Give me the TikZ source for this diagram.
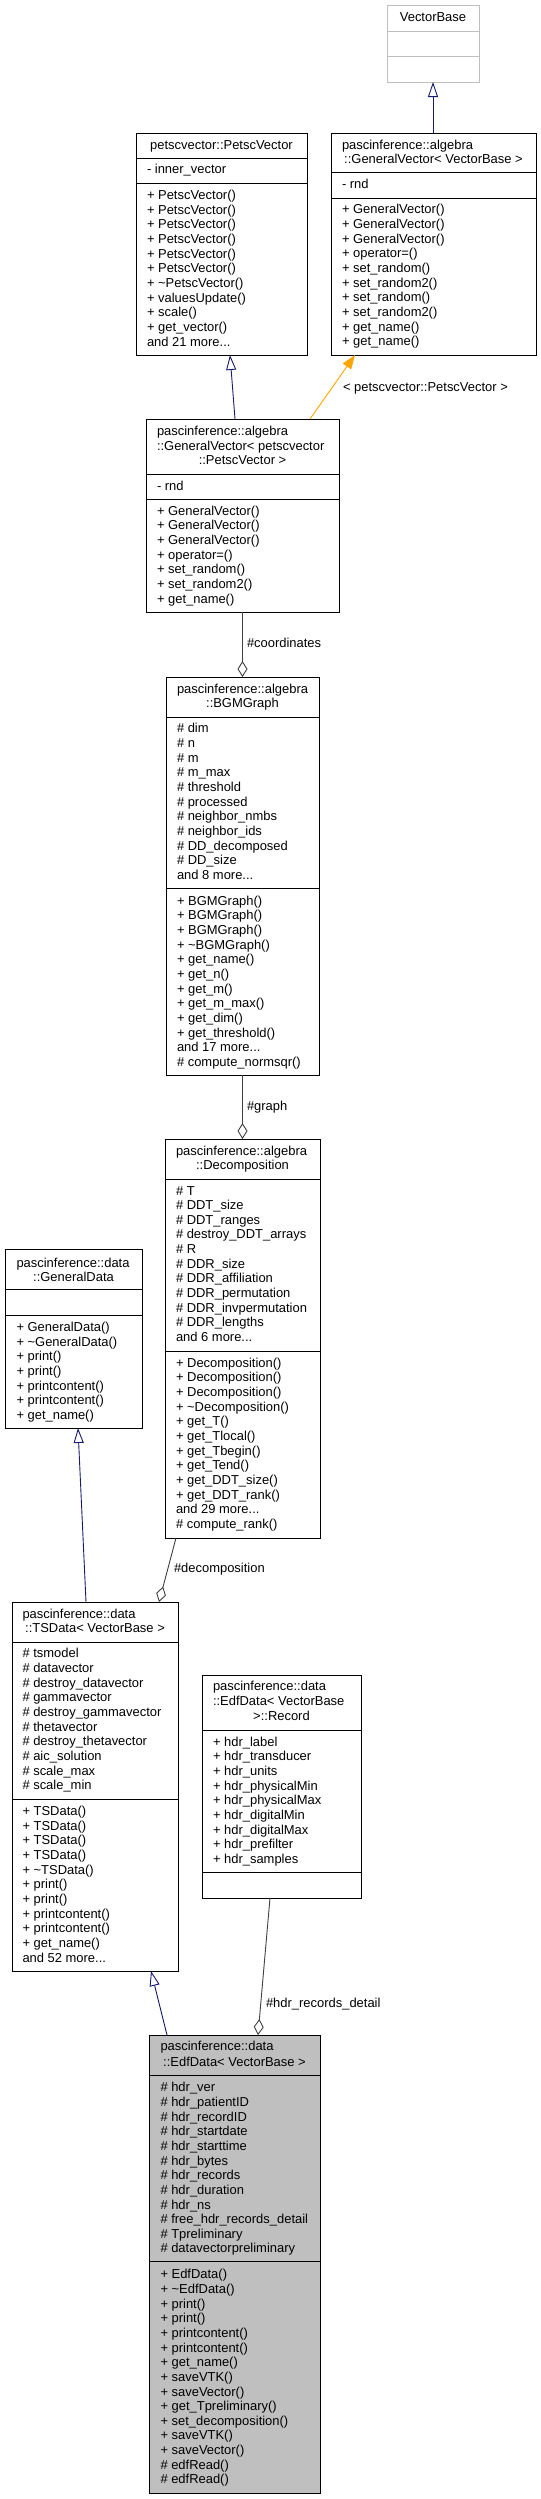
\documentclass[tikz,border=0pt]{standalone}
\usepackage{fontspec}
\setmainfont{Liberation Sans}
\usetikzlibrary{arrows.meta}
\definecolor{mblue}{HTML}{191970}
\definecolor{aggc}{HTML}{404040}
\definecolor{tplc}{HTML}{FFA500}
\definecolor{vbgray}{HTML}{BFBFBF}
\definecolor{edfgray}{HTML}{BFBFBF}
\newcommand\tdots{...}
\tikzset{
  box/.style={draw=black,line width=1bp,inner sep=0pt,outer sep=0pt},
  txt/.style={anchor=base west,inner sep=0pt,outer sep=0pt,font=\fontsize{13}{14.7}\selectfont},
  txtc/.style={anchor=base,inner sep=0pt,outer sep=0pt,font=\fontsize{13}{14.7}\selectfont},
  inh/.style={draw=mblue,line width=0.9bp,-{Triangle[open,length=15bp,width=10bp]}},
  agg/.style={draw=aggc,line width=0.9bp,-{Diamond[open,length=16bp,width=10bp]}},
  tpl/.style={draw=tplc,line width=0.9bp,-{Triangle[length=14bp,width=10bp]}},
  lbl/.style={anchor=base west,inner sep=0pt,outer sep=0pt,font=\fontsize{13}{14.7}\selectfont},
}
% [style]{name}{l}{t}{r}{b}{d1}{d2}
\newcommand\umlbox[8][]{%
  \node[box,#1,anchor=north west,minimum width={(#5-#3)*1bp},minimum height={(#6-#4)*1bp}] (#2) at (#3,#4) {};
  \draw[box,#1] (#3,#7) -- (#5,#7) (#3,#8) -- (#5,#8);
}
% {prefix}{x}{first center y}{list}
\newcommand\txtlines[4]{%
  \foreach [count=\i] \t in {#4} {\node[txt] (#1\i) at (#2,{#3+4.5+(\i-1)*14.65}) {\t};}
}
\begin{document}
\begin{tikzpicture}[x=1bp,y=-1bp]
\useasboundingbox[fill=white] (0,0) rectangle (541,2499);

% ---------- boxes ----------
\umlbox[draw=vbgray]{vb}{387}{6}{479}{82}{32}{57}
\umlbox{pv}{136}{133}{307}{355}{158}{183}
\umlbox{gvb}{331}{133}{536}{355}{172}{198}
\umlbox{gvp}{146}{419}{339}{612}{474}{499}
\umlbox{bgm}{166}{677}{319}{1075}{717}{888}
\umlbox{dec}{165}{1139}{320}{1538}{1179}{1351}
\umlbox{gd}{5}{1249}{142}{1428}{1289}{1315}
\umlbox{ts}{12}{1602}{178}{1971}{1642}{1799}
\umlbox{rec}{202}{1675}{361}{1898}{1730}{1872}
\umlbox[fill=edfgray]{edf}{149}{2035}{320}{2493}{2075}{2261}

% ---------- VectorBase ----------
\node[txtc] (vbt) at (433,21.5) {VectorBase};

% ---------- PetscVector ----------
\node[txtc] (pvt) at (221.5,149.5) {petscvector::PetscVector};
\txtlines{pva}{147}{169}{- inner\_vector}
\txtlines{pvm}{147}{195}{+ PetscVector(),+ PetscVector(),+ PetscVector(),+ PetscVector(),+ PetscVector(),+ PetscVector(),+ \textasciitilde PetscVector(),+ valuesUpdate(),+ scale(),+ get\_vector(),and 21 more\tdots}

% ---------- GeneralVector<VectorBase> ----------
\node[txt] (gvbt1) at (342,149.5) {pascinference::algebra};
\node[txtc] (gvbt2) at (433.5,163.5) {::GeneralVector< VectorBase >};
\txtlines{gvba}{342}{184}{- rnd}
\txtlines{gvbm}{342}{209.3}{+ GeneralVector(),+ GeneralVector(),+ GeneralVector(),+ operator=(),+ set\_random(),+ set\_random2(),+ set\_random(),+ set\_random2(),+ get\_name(),+ get\_name()}

% ---------- GeneralVector<PetscVector> ----------
\node[txt] (gvpt1) at (157,435.2) {pascinference::algebra};
\node[txt] (gvpt2) at (157,450.2) {::GeneralVector< petscvector};
\node[txtc] (gvpt3) at (242.5,464.5) {::PetscVector >};
\txtlines{gvpa}{157}{486}{- rnd}
\txtlines{gvpm}{157}{510.7}{+ GeneralVector(),+ GeneralVector(),+ GeneralVector(),+ operator=(),+ set\_random(),+ set\_random2(),+ get\_name()}

% ---------- BGMGraph ----------
\node[txt] (bgmt1) at (177,693.5) {pascinference::algebra};
\node[txtc] (bgmt2) at (242.5,707) {::BGMGraph};
\txtlines{bgma}{177}{728.3}{\# dim,\# n,\# m,\# m\_max,\# threshold,\# processed,\# neighbor\_nmbs,\# neighbor\_ids,\# DD\_decomposed,\# DD\_size,and 8 more\tdots}
\txtlines{bgmm}{177}{900.7}{+ BGMGraph(),+ BGMGraph(),+ BGMGraph(),+ \textasciitilde BGMGraph(),+ get\_name(),+ get\_n(),+ get\_m(),+ get\_m\_max(),+ get\_dim(),+ get\_threshold(),and 17 more\tdots,\# compute\_normsqr()}

% ---------- Decomposition ----------
\node[txt] (dect1) at (176,1155.5) {pascinference::algebra};
\node[txtc] (dect2) at (242.5,1169.8) {::Decomposition};
\txtlines{deca}{176}{1190.5}{\# T,\# DDT\_size,\# DDT\_ranges,\# destroy\_DDT\_arrays,\# R,\# DDR\_size,\# DDR\_affiliation,\# DDR\_permutation,\# DDR\_invpermutation,\# DDR\_lengths,and 6 more\tdots}
\txtlines{decm}{176}{1362.7}{+ Decomposition(),+ Decomposition(),+ Decomposition(),+ \textasciitilde Decomposition(),+ get\_T(),+ get\_Tlocal(),+ get\_Tbegin(),+ get\_Tend(),+ get\_DDT\_size(),+ get\_DDT\_rank(),and 29 more\tdots,\# compute\_rank()}

% ---------- GeneralData ----------
\node[txt] (gdt1) at (16.5,1267.5) {pascinference::data};
\node[txtc] (gdt2) at (73.5,1281.5) {::GeneralData};
\txtlines{gdm}{16.5}{1327}{+ GeneralData(),+ \textasciitilde GeneralData(),+ print(),+ print(),+ printcontent(),+ printcontent(),+ get\_name()}

% ---------- TSData ----------
\node[txt] (tst1) at (22.5,1618.5) {pascinference::data};
\node[txtc] (tst2) at (95,1632.5) {::TSData< VectorBase >};
\txtlines{tsa}{22.5}{1653.3}{\# tsmodel,\# datavector,\# destroy\_datavector,\# gammavector,\# destroy\_gammavector,\# thetavector,\# destroy\_thetavector,\# aic\_solution,\# scale\_max,\# scale\_min}
\txtlines{tsm}{22.5}{1811}{+ TSData(),+ TSData(),+ TSData(),+ TSData(),+ \textasciitilde TSData(),+ print(),+ print(),+ printcontent(),+ printcontent(),+ get\_name(),and 52 more\tdots}

% ---------- Record ----------
\node[txt] (rect1) at (213,1690.5) {pascinference::data};
\node[txt] (rect2) at (213,1705.2) {::EdfData< VectorBase};
\node[txtc] (rect3) at (281.5,1720.2) {>::Record};
\txtlines{reca}{213}{1741.7}{+ hdr\_label,+ hdr\_transducer,+ hdr\_units,+ hdr\_physicalMin,+ hdr\_physicalMax,+ hdr\_digitalMin,+ hdr\_digitalMax,+ hdr\_prefilter,+ hdr\_samples}

% ---------- EdfData ----------
\node[txt] (edft1) at (160.5,2050.5) {pascinference::data};
\node[txtc] (edft2) at (234.5,2066.2) {::EdfData< VectorBase >};
\txtlines{edfa}{160.5}{2087.3}{\# hdr\_ver,\# hdr\_patientID,\# hdr\_recordID,\# hdr\_startdate,\# hdr\_starttime,\# hdr\_bytes,\# hdr\_records,\# hdr\_duration,\# hdr\_ns,\# free\_hdr\_records\_detail,\# Tpreliminary,\# datavectorpreliminary}
\txtlines{edfm}{160.5}{2274.3}{+ EdfData(),+ \textasciitilde EdfData(),+ print(),+ print(),+ printcontent(),+ printcontent(),+ get\_name(),+ saveVTK(),+ saveVector(),+ get\_Tpreliminary(),+ set\_decomposition(),+ saveVTK(),+ saveVector(),\# edfRead(),\# edfRead()}

% ---------- connectors ----------
\draw[inh] (gvb.north -| vb.south) -- (vb.south);
\draw[inh] ([xshift=-7.5bp]gvp.north) -- ([xshift=8.5bp]pv.south);
\draw[tpl] ([xshift=67.5bp]gvp.north) -- ([xshift=-78.5bp]gvb.south);
\draw[agg] (gvp.south) -- (bgm.north);
\draw[agg] (bgm.south) -- (dec.north);
\draw[agg] ([xshift=-66.5bp]dec.south) -- ([xshift=64bp]ts.north);
\draw[inh] ([xshift=-9bp]ts.north) -- ([xshift=4.5bp]gd.south);
\draw[inh] ([xshift=-67.5bp]edf.north) -- ([xshift=56bp]ts.south);
\draw[agg] ([xshift=-11.5bp]rec.south) -- ([xshift=23.5bp]edf.north);

% ---------- labels ----------
\node[lbl] (l1) at (343,391.5) {< petscvector::PetscVector >};
\node[lbl] (l2) at (247,647.5) {\#coordinates};
\node[lbl] (l3) at (247,1110.5) {\#graph};
\node[lbl] (l4) at (174,1572.5) {\#decomposition};
\node[lbl] (l5) at (266,2007.5) {\#hdr\_records\_detail};
\end{tikzpicture}
\end{document}
